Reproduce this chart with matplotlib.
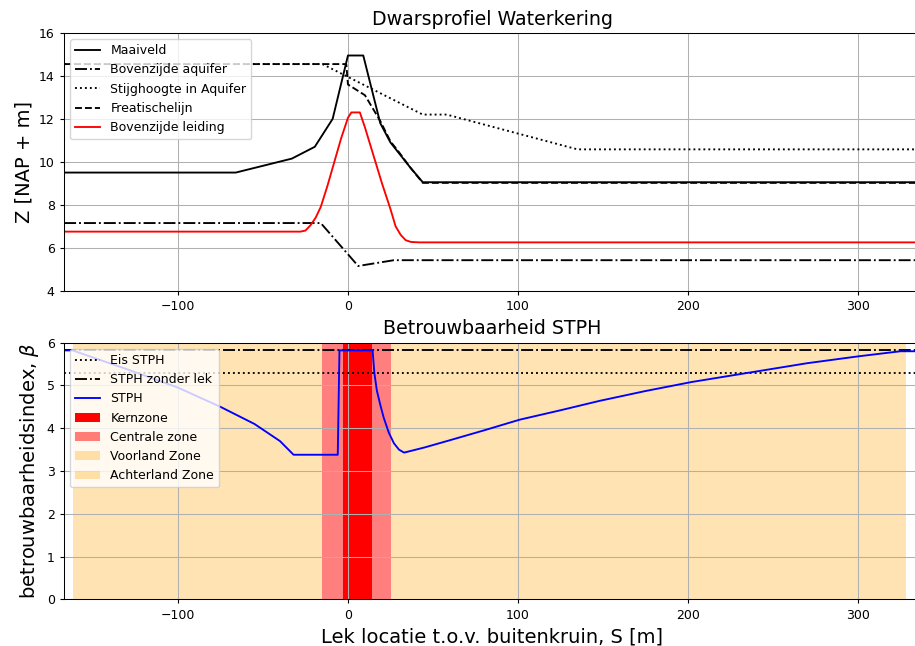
import numpy as np
import matplotlib
matplotlib.use("Agg")
import matplotlib.pyplot as plt

# --- dwarsprofiel (bovenste grafiek) ---
maaiveld_x = [-167, -66, -33, -19.5, -9, 0, 9, 19, 25, 30, 36.5, 44, 340]
maaiveld_z = [9.5, 9.5, 10.15, 10.7, 12.0, 14.95, 14.95, 11.8, 10.9, 10.4, 9.75, 9.05, 9.05]

aquifer_x = [-167, -16, 6, 27, 340]
aquifer_z = [7.15, 7.15, 5.15, 5.42, 5.42]

stijg_x = [-167, -15, 44, 58, 135, 340]
stijg_z = [14.55, 14.55, 12.2, 12.2, 10.58, 10.58]

freat_x = [-167, -1, 0, 10, 19, 25, 30, 36.5, 44, 340]
freat_z = [14.55, 14.55, 13.6, 13.1, 11.9, 10.95, 10.45, 9.75, 9.02, 9.02]

leiding_x = [-167, -28, -25, -22, -19, -16, -12, -8, -4, 0, 2, 7, 10, 15, 20, 25,
             28, 31, 34, 37, 42, 340]
leiding_z = [6.75, 6.75, 6.8, 7.05, 7.4, 7.9, 8.9, 10.0, 11.1, 12.05, 12.3, 12.3,
             11.6, 10.3, 9.0, 7.8, 7.0, 6.6, 6.35, 6.27, 6.25, 6.25]

# --- betrouwbaarheid (onderste grafiek) ---
stph_x = [-167, -162, -130, -100, -75, -55, -40, -32, -6, -5, 14.5, 15.5, 17, 19,
          21, 24, 27, 30, 33, 45, 60, 80, 101, 125, 148, 175, 202, 236, 270, 300,
          325, 340]
stph_b = [5.82, 5.82, 5.38, 4.95, 4.5, 4.1, 3.7, 3.38, 3.38, 5.82, 5.82, 5.3, 4.88,
          4.55, 4.25, 3.9, 3.65, 3.5, 3.43, 3.55, 3.72, 3.95, 4.2, 4.42, 4.64, 4.87,
          5.08, 5.3, 5.52, 5.68, 5.8, 5.8]
eis_stph = 5.3
stph_zonder_lek = 5.82

kernzone = (-3, 14)
centrale_zone = (-15.5, 25.5)
voorland_zone = (-162, -15.5)
achterland_zone = (25.5, 328)

plt.rcParams['font.family'] = ['DejaVu Sans']
plt.rcParams['font.size'] = 9
plt.rcParams['lines.linewidth'] = 1.35
plt.rcParams['axes.linewidth'] = 0.75
plt.rcParams['grid.linewidth'] = 0.75
plt.rcParams['xtick.major.size'] = 3.2
plt.rcParams['ytick.major.size'] = 3.2

fig = plt.figure(figsize=(9.15, 6.46), dpi=100)
xlim = (-167, 336.5)

ax1 = fig.add_axes([0.070, 0.550, 0.9355, 0.399])
ax1.plot(maaiveld_x, maaiveld_z, 'k-', label='Maaiveld')
ax1.plot(aquifer_x, aquifer_z, 'k-.', label='Bovenzijde aquifer')
ax1.plot(stijg_x, stijg_z, 'k:', label='Stijghoogte in Aquifer')
ax1.plot(freat_x, freat_z, 'k--', label='Freatischelijn')
ax1.plot(leiding_x, leiding_z, 'r-', label='Bovenzijde leiding')
ax1.set_xlim(xlim)
ax1.set_ylim(4, 16)
ax1.set_ylabel('Z [NAP + m]', fontsize=14)
ax1.set_title('Dwarsprofiel Waterkering', fontsize=13.7)
ax1.grid(True)
ax1.legend(loc='upper left')

ax2 = fig.add_axes([0.070, 0.0723, 0.9355, 0.3972])
ax2.axhline(eis_stph, color='k', ls=':', label='Eis STPH')
ax2.axhline(stph_zonder_lek, color='k', ls='-.', label='STPH zonder lek')
ax2.plot(stph_x, stph_b, 'b-', label='STPH')
ax2.axvspan(*kernzone, color='red', lw=0, label='Kernzone', zorder=0.9)
ax2.axvspan(*centrale_zone, color='red', alpha=0.5, lw=0, label='Centrale zone', zorder=0.8)
ax2.axvspan(*voorland_zone, color='orange', alpha=0.3, lw=0, label='Voorland Zone', zorder=0.8)
ax2.axvspan(*achterland_zone, color='orange', alpha=0.3, lw=0, label='Achterland Zone', zorder=0.8)
ax2.set_xlim(xlim)
ax2.set_ylim(0, 6)
ax2.set_ylabel(r'betrouwbaarheidsindex, $\beta$', fontsize=14)
ax2.set_xlabel('Lek locatie t.o.v. buitenkruin, S [m]', fontsize=14)
ax2.set_title('Betrouwbaarheid STPH', fontsize=13.7)
ax2.grid(True)
ax2.legend(loc='upper left')

plt.savefig('out.png', dpi=100)
